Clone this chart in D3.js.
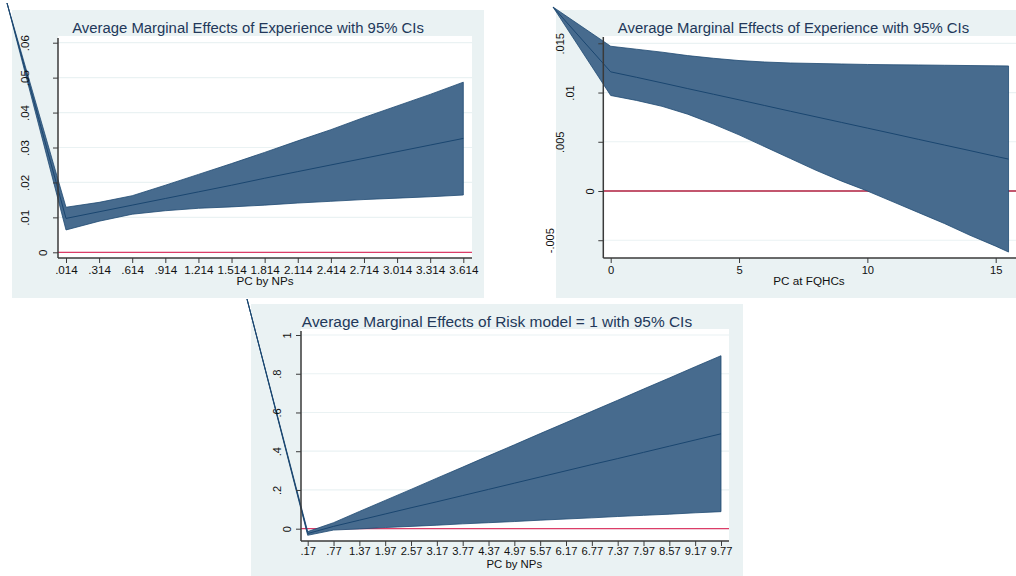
<!DOCTYPE html>
<html>
<head>
<meta charset="utf-8">
<script src="https://cdn.jsdelivr.net/npm/d3@7"></script>
<style>
body{margin:0;background:#fff;}
svg{display:block;font-family:"Liberation Sans",Arial,sans-serif;}
</style>
</head>
<body>
<svg id="chart" width="1016" height="576"></svg>
<script>
// ---- panel 1 : experience x PC by NPs ----
var npsX = [0.014,0.314,0.614,0.914,1.214,1.514,1.814,2.114,2.414,2.714,3.014,3.314,3.614];
var npsMean = [0.0097,0.0116,0.0135,0.0154,0.0173,0.0192,0.0212,0.0231,0.0250,0.0269,0.0288,0.0307,0.0326];
var npsLow  = [0.0064,0.0089,0.0109,0.0119,0.0126,0.0130,0.0135,0.0141,0.0146,0.0151,0.0155,0.0159,0.0164];
var npsHigh = [0.0129,0.0143,0.0162,0.0192,0.0223,0.0254,0.0286,0.0319,0.0351,0.0386,0.0419,0.0452,0.0487];
var npsXLabels = [".014",".314",".614",".914","1.214","1.514","1.814","2.114","2.414","2.714","3.014","3.314","3.614"];
var npsYTicks = [0,0.01,0.02,0.03,0.04,0.05,0.06];
var npsYLabels = ["0",".01",".02",".03",".04",".05",".06"];

// ---- panel 2 : experience x PC at FQHCs ----
var fqX    = [0,1,2,3,4,5,6,7,8,9,10,11,12,13,14,15,15.5];
var fqMean = [0.0121,0.01155,0.01098,0.0104,0.00983,0.00926,0.00868,0.0081,0.00753,0.00696,0.00639,0.00582,0.00524,0.00467,0.0041,0.00352,0.00324];
var fqLow  = [0.0097,0.0092,0.0086,0.0078,0.0068,0.0057,0.0045,0.0033,0.0021,0.0010,0.0000,-0.0011,-0.0022,-0.0033,-0.0045,-0.0056,-0.0062];
var fqHigh = [0.0147,0.0144,0.0141,0.01375,0.01348,0.01325,0.0131,0.0130,0.01295,0.0129,0.01285,0.01282,0.0128,0.01277,0.01274,0.01271,0.0127];
var fqXTicks = [0,5,10,15];
var fqXLabels = ["0","5","10","15"];
var fqYTicks = [-0.005,0,0.005,0.01,0.015];
var fqYLabels = ["-.005","0",".005",".01",".015"];

// ---- panel 3 : risk model x PC by NPs ----
var riskX = [0.17,0.77,1.37,1.97,2.57,3.17,3.77,4.37,4.97,5.57,6.17,6.77,7.37,7.97,8.57,9.17,9.77];
var riskMean = [-0.025,0.012,0.044,0.076,0.108,0.139,0.171,0.203,0.235,0.267,0.299,0.331,0.362,0.394,0.426,0.458,0.490];
var riskLow  = [-0.034,-0.007,-0.001,0.006,0.012,0.018,0.025,0.031,0.037,0.044,0.050,0.056,0.063,0.069,0.075,0.082,0.088];
var riskHigh = [-0.015,0.031,0.089,0.146,0.203,0.261,0.318,0.376,0.433,0.491,0.548,0.606,0.663,0.721,0.778,0.836,0.893];
var riskXLabels = [".17",".77","1.37","1.97","2.57","3.17","3.77","4.37","4.97","5.57","6.17","6.77","7.37","7.97","8.57","9.17","9.77"];
var riskYTicks = [0,0.2,0.4,0.6,0.8,1];
var riskYLabels = ["0",".2",".4",".6",".8","1"];

var titleExp = "Average Marginal Effects of Experience with 95% CIs";
var titleRisk = "Average Marginal Effects of Risk model = 1 with 95% CIs";

var bandFill = "#476b8e", bandEdge = "#1f4a72", lineCol = "#1a4670";
var bgCol = "#eaf2f3", gridCol = "#eaf2f3", axisCol = "#3a3a3a";

var svg = d3.select("#chart");

var panels = [
  {x:npsX, mean:npsMean, lo:npsLow, hi:npsHigh, xt:npsX, xl:npsXLabels, yt:npsYTicks, yl:npsYLabels,
   title:titleExp, xtitle:"PC by NPs", zero:"#dc3d68",
   bg:[12,10,472,288], plot:[58,472,36,258], axTop:38,
   xd:[0.014,3.614], xr:[66,463.3], yd:[0,0.06], yr:[252.3,42.7],
   origin:[7,3], tcx:248, tw:352, tby:33, lfs:11.7, lby:274, ttx:265, tty:285, tfs:11.7,
   la:5.5, lb:9.2, yfs:11.5},
  {x:fqX, mean:fqMean, lo:fqLow, hi:fqHigh, xt:fqXTicks, xl:fqXLabels, yt:fqYTicks, yl:fqYLabels,
   title:titleExp, xtitle:"PC at FQHCs", zero:"#b3213f",
   bg:[556,10,460,288], plot:[603.3,1016,36,258], axTop:37,
   xd:[0,15], xr:[610.7,995.7], yd:[0,0.015], yr:[191,43.3],
   origin:[553,7], tcx:793.5, tw:351.6, tby:33, lfs:11.2, lby:273.5, ttx:809, tty:284.5, tfs:11.7,
   la:3.3, lb:10, yfs:11},
  {x:riskX, mean:riskMean, lo:riskLow, hi:riskHigh, xt:riskX, xl:riskXLabels, yt:riskYTicks, yl:riskYLabels,
   title:titleRisk, xtitle:"PC by NPs", zero:"#dc3d68",
   bg:[251,304,492,272], plot:[301,729,329,541], axTop:331,
   xd:[0.17,9.77], xr:[307.7,721], yd:[0,1], yr:[528.7,335],
   origin:[247,299], tcx:497, tw:390.7, tby:326.5, lfs:11.2, lby:555, ttx:514.3, tty:567.6, tfs:11.4,
   la:4.3, lb:10, yfs:11}
];

panels.forEach(function(p){
  var g = svg.append("g");
  var xs = d3.scaleLinear().domain(p.xd).range(p.xr);
  var ys = d3.scaleLinear().domain(p.yd).range(p.yr);
  var px0 = p.plot[0], px1 = p.plot[1], py0 = p.plot[2], py1 = p.plot[3];

  g.append("rect").attr("x",p.bg[0]).attr("y",p.bg[1]).attr("width",p.bg[2]).attr("height",p.bg[3]).attr("fill",bgCol);
  g.append("rect").attr("x",px0).attr("y",py0).attr("width",px1-px0).attr("height",py1-py0).attr("fill","#fff");

  // grid
  g.selectAll("line.grid").data(p.yt).enter().append("line")
    .attr("x1",px0).attr("x2",px1)
    .attr("y1",function(d){return ys(d);}).attr("y2",function(d){return ys(d);})
    .attr("stroke",gridCol).attr("stroke-width",1.2);

  // zero line
  g.append("line").attr("x1",px0).attr("x2",px1).attr("y1",ys(0)).attr("y2",ys(0))
    .attr("stroke",p.zero).attr("stroke-width",1.3);

  var rows = p.x.map(function(v,i){return {x:v, m:p.mean[i], lo:p.lo[i], hi:p.hi[i]};});

  // the band polygon and the line both start at the image origin (export glitch)
  var area = d3.area().x(function(d){return xs(d.x);}).y0(function(d){return ys(d.lo);}).y1(function(d){return ys(d.hi);});
  var ap = area(rows);
  g.append("path").attr("d","M"+p.origin[0]+","+p.origin[1]+"L"+ap.slice(1))
    .attr("fill",bandFill).attr("stroke",bandEdge).attr("stroke-width",0.8).attr("stroke-linejoin","round");
  var line = d3.line().x(function(d){return xs(d.x);}).y(function(d){return ys(d.m);});
  var lp = line(rows);
  g.append("path").attr("d","M"+p.origin[0]+","+p.origin[1]+"L"+lp.slice(1))
    .attr("fill","none").attr("stroke",lineCol).attr("stroke-width",1);

  // x axis
  var xa = g.append("g").attr("transform","translate(0,"+py1+")")
    .call(d3.axisBottom(xs).tickValues(p.xt).tickSize(5).tickSizeOuter(0)
      .tickFormat(function(d,i){return p.xl[i];}));
  xa.select(".domain").remove();
  xa.selectAll(".tick line").attr("stroke",axisCol);
  xa.selectAll("text").attr("font-size",p.lfs).attr("font-family","'Liberation Sans',Arial,sans-serif")
    .attr("fill","#111").attr("dy",null).attr("y",p.lby-py1);
  g.append("line").attr("x1",px0).attr("x2",px1).attr("y1",py1).attr("y2",py1)
    .attr("stroke",axisCol).attr("stroke-width",1.5);

  // y axis
  var ya = g.append("g").attr("transform","translate("+px0+",0)")
    .call(d3.axisLeft(ys).tickValues(p.yt).tickSize(5).tickSizeOuter(0)
      .tickFormat(function(d,i){return p.yl[i];}));
  ya.select(".domain").remove();
  ya.selectAll(".tick line").attr("stroke",axisCol);
  ya.selectAll("text").attr("font-size",p.yfs).attr("font-family","'Liberation Sans',Arial,sans-serif")
    .attr("fill","#111").attr("x",null).attr("dy",null).attr("text-anchor","middle")
    .attr("transform",function(d,i){
      var cx = -(p.la + p.lb*p.yl[i].length) + 0.36*p.yfs;
      return "translate("+cx+",0) rotate(-90)";
    });
  g.append("line").attr("x1",px0).attr("x2",px0).attr("y1",p.axTop).attr("y2",py1)
    .attr("stroke",axisCol).attr("stroke-width",1.5);

  // titles
  var t = g.append("text").attr("x",p.tcx).attr("y",p.tby).attr("text-anchor","middle")
    .attr("font-size",14).attr("fill","#22385a").text(p.title);
  var w = t.node().getComputedTextLength();
  t.attr("font-size",14*p.tw/w);
  g.append("text").attr("x",p.ttx).attr("y",p.tty).attr("text-anchor","middle")
    .attr("font-size",p.tfs).attr("fill","#111").text(p.xtitle);
});
</script>
</body>
</html>
